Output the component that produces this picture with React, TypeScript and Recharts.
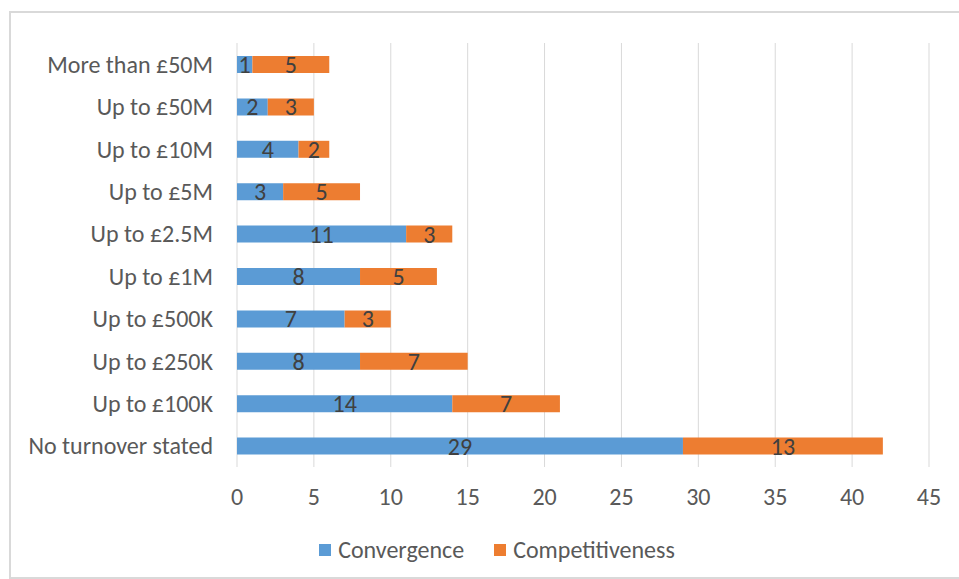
import React from "react";
import {
  BarChart,
  Bar,
  XAxis,
  YAxis,
  CartesianGrid,
  LabelList,
} from "recharts";

const categories = [
  "More than £50M",
  "Up to £50M",
  "Up to £10M",
  "Up to £5M",
  "Up to £2.5M",
  "Up to £1M",
  "Up to £500K",
  "Up to £250K",
  "Up to £100K",
  "No turnover stated",
];
const convergence = [1, 2, 4, 3, 11, 8, 7, 8, 14, 29];
const competitiveness = [5, 3, 2, 5, 3, 5, 3, 7, 7, 13];
const xTicks = [0, 5, 10, 15, 20, 25, 30, 35, 40, 45];
const seriesNames = ["Convergence", "Competitiveness"];
const seriesColors = ["#5b9bd5", "#ed7d31"];

const data = categories.map((name, i) => ({
  name,
  convergence: convergence[i],
  competitiveness: competitiveness[i],
}));

const font = "Carlito, Calibri, 'Open Sans', sans-serif";
const textColor = "#595959";
const fs = 24;

const App: React.FC = () => {
  return (
    <div
      style={{
        position: "absolute",
        left: 0,
        top: 0,
        width: 959,
        height: 579,
        background: "#fff",
        overflow: "hidden",
        fontFamily: font,
      }}
    >
      <div
        style={{
          position: "absolute",
          left: 9,
          top: 11,
          width: 960,
          height: 564,
          border: "2px solid #d9d9d9",
        }}
      />
      <div style={{ position: "absolute", left: 0, top: 0 }}>
        <BarChart
          layout="vertical"
          width={959}
          height={579}
          data={data}
          barSize={17}
          margin={{ top: 43, right: 30, bottom: 82, left: 0 }}
        >
          <CartesianGrid horizontal={false} stroke="#d9d9d9" />
          <XAxis
            type="number"
            domain={[0, 45]}
            ticks={xTicks}
            height={30}
            axisLine={false}
            tickLine={false}
            tickSize={0}
            tickMargin={21}
            tick={{ fill: textColor, fontSize: fs, fontFamily: font }}
          />
          <YAxis
            type="category"
            dataKey="name"
            width={237}
            axisLine={false}
            tickLine={false}
            tickSize={0}
            tickMargin={24}
            tick={{ fill: textColor, fontSize: fs, fontFamily: font }}
          />
          <Bar
            dataKey="convergence"
            name={seriesNames[0]}
            stackId="a"
            fill={seriesColors[0]}
            isAnimationActive={false}
          >
            <LabelList
              dataKey="convergence"
              position="center"
              fill="#404040"
              fontSize={fs}
              fontFamily={font}
            />
          </Bar>
          <Bar
            dataKey="competitiveness"
            name={seriesNames[1]}
            stackId="a"
            fill={seriesColors[1]}
            isAnimationActive={false}
          >
            <LabelList
              dataKey="competitiveness"
              position="center"
              fill="#404040"
              fontSize={fs}
              fontFamily={font}
            />
          </Bar>
        </BarChart>
      </div>
      <div
        style={{
          position: "absolute",
          left: 0,
          top: 535,
          width: 994,
          display: "flex",
          justifyContent: "center",
          alignItems: "center",
          gap: 30,
          fontSize: fs,
          color: textColor,
        }}
      >
        {seriesNames.map((n, i) => (
          <div key={n} style={{ display: "flex", alignItems: "center" }}>
            <span
              style={{
                display: "inline-block",
                width: 12,
                height: 12,
                background: seriesColors[i],
                marginRight: 7,
              }}
            />
            <span>{n}</span>
          </div>
        ))}
      </div>
    </div>
  );
};

export default App;
